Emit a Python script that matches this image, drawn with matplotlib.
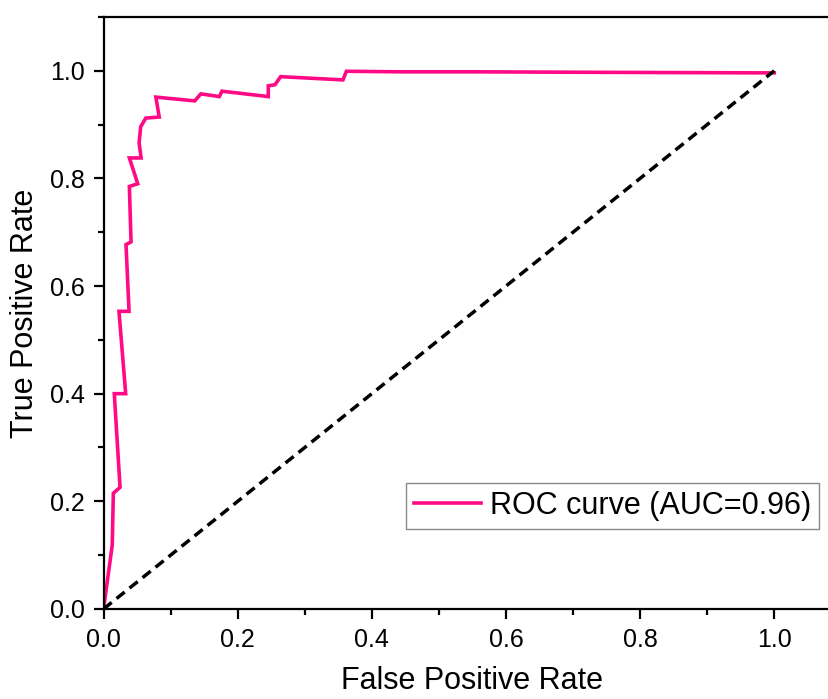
import matplotlib
matplotlib.use("Agg")
import matplotlib.pyplot as plt
from matplotlib.ticker import MultipleLocator

plt.rcParams['font.family'] = ['Liberation Sans', 'DejaVu Sans']

# ROC curve data
fpr = [0.0, 0.013, 0.0146, 0.0246, 0.016, 0.033, 0.023, 0.038, 0.0335, 0.041,
       0.0385, 0.051, 0.0385, 0.056, 0.053, 0.0554, 0.063, 0.083, 0.078, 0.136,
       0.145, 0.1726, 0.1766, 0.2456, 0.2456, 0.2556, 0.264, 0.357, 0.362, 0.442,
       0.55, 0.75, 1.0]
tpr = [0.0, 0.119, 0.215, 0.226, 0.400, 0.400, 0.553, 0.553, 0.677, 0.682,
       0.785, 0.790, 0.838, 0.838, 0.866, 0.896, 0.912, 0.914, 0.951, 0.944,
       0.957, 0.952, 0.962, 0.952, 0.972, 0.974, 0.989, 0.983, 0.999, 0.998,
       0.998, 0.997, 0.996]
chance = [0.0, 1.0]
legend_label = "ROC curve (AUC=0.96)"
x_ticks = [0.0, 0.2, 0.4, 0.6, 0.8, 1.0]
y_ticks = [0.0, 0.2, 0.4, 0.6, 0.8, 1.0]

fig = plt.figure(figsize=(8.29, 6.99), dpi=100)
ax = fig.add_axes([0.1249, 0.1288, 0.890, 0.847])

ax.plot(fpr, tpr, color='#FF0A84', lw=2.6, label=legend_label, solid_joinstyle='miter')
ax.plot(chance, chance, color='black', lw=2.5, dashes=(3, 1.8))

ax.set_xlim(0, 1.1)
ax.set_ylim(0, 1.1)
ax.set_xticks(x_ticks)
ax.set_yticks(y_ticks)
ax.set_xticklabels([f"{v:.1f}" for v in x_ticks])
ax.set_yticklabels([f"{v:.1f}" for v in y_ticks])
ax.xaxis.set_minor_locator(MultipleLocator(0.1))
ax.yaxis.set_minor_locator(MultipleLocator(0.1))

for s in ax.spines.values():
    s.set_linewidth(1.6)
ax.tick_params(which='major', direction='out', length=7.5, width=1.6, labelsize=18, pad=6)
ax.tick_params(which='minor', direction='out', length=4.3, width=1.6)

ax.set_xlabel("False Positive Rate", fontsize=22, labelpad=10)
ax.set_ylabel("True Positive Rate", fontsize=22, labelpad=7)

leg = ax.legend(loc='center', bbox_to_anchor=(0.6904, 0.174), fontsize=22,
                frameon=True, fancybox=False, framealpha=1, edgecolor='#888888',
                borderpad=0.25, handlelength=2.2, handletextpad=0.3)
leg.get_frame().set_linewidth(1.0)

fig.savefig("out.png", dpi=100)
